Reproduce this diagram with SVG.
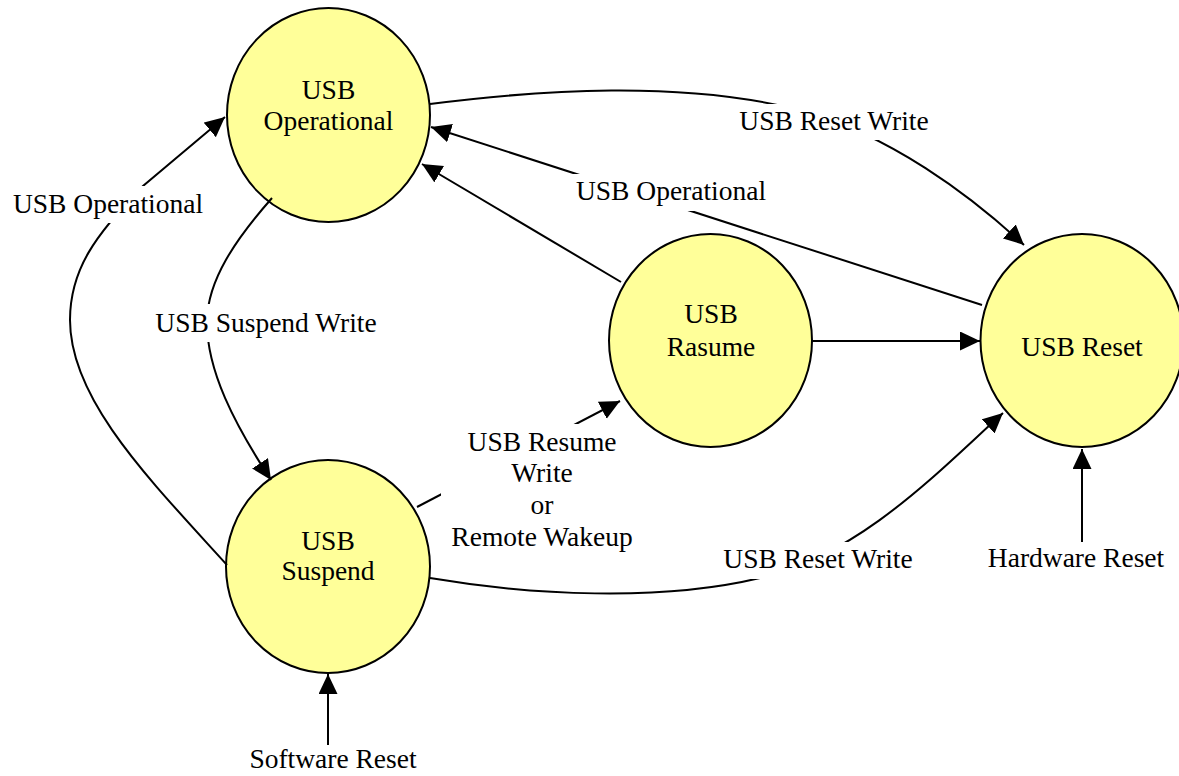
<svg xmlns="http://www.w3.org/2000/svg" width="1179" height="776" viewBox="0 0 1179 776" font-family="'Liberation Serif', 'Times New Roman', Times, 'DejaVu Serif', serif">
<style>
.node ellipse{fill:#FFFF99;stroke:#000;stroke-width:2}
text{font-family:'Liberation Serif','Times New Roman',Times,'DejaVu Serif',serif;font-size:27.5px;fill:#000;text-anchor:middle}
.edge{fill:none;stroke:#000;stroke-width:2;marker-end:url(#arrow)}
.bg{fill:#fff;stroke:none}
</style>
<defs>
<marker id="arrow" markerUnits="userSpaceOnUse" markerWidth="22" markerHeight="20" refX="20" refY="9.5" orient="auto">
<path d="M0,0 L20,9.5 L0,19 z" fill="#000"/>
</marker>
</defs>
<rect width="1179" height="776" fill="#fff"/>
<g id="op" class="node"><ellipse cx="328.5" cy="115" rx="101.5" ry="107"/><text x="328.5" y="99">USB</text><text x="328.5" y="130">Operational</text></g>
<g id="rs" class="node"><ellipse cx="710.5" cy="340.5" rx="101.5" ry="106.5"/><text x="711" y="323">USB</text><text x="711" y="356">Rasume</text></g>
<g id="rt" class="node"><ellipse cx="1082" cy="340.5" rx="101.5" ry="106.5"/><text x="1082" y="356">USB Reset</text></g>
<g id="sp" class="node"><ellipse cx="328" cy="566.5" rx="102" ry="106.5"/><text x="328" y="550">USB</text><text x="328" y="580">Suspend</text></g>
<g id="connectors">
<path class="edge" d="M430,104 C540,90 680,80 800,110 C890,135 970,195 1024,245"/>
<path class="edge" d="M982,305 L431,127"/>
<path class="edge" d="M621,282 L422,164"/>
<path class="edge" d="M812,341 L980,341"/>
<path class="edge" d="M272,198 C235,240 208,280 207,320 C206,370 235,425 271,480"/>
<path class="edge" d="M227,565 C150,480 70,400 70,320 C70,270 95,235 143,186 L225,117"/>
<path class="edge" d="M417,507 L620,401"/>
<path class="edge" d="M430,578 C530,595 660,602 760,578 C860,555 940,470 1003,413"/>
<path class="edge" d="M328,745 L328,674"/>
<path class="edge" d="M1082,542 L1082,449"/>
</g>
<g id="labels">
<rect class="bg" x="736" y="104" width="196" height="36"/><text x="834" y="130">USB Reset Write</text>
<rect class="bg" x="573" y="174" width="197" height="37"/><text x="671" y="200">USB Operational</text>
<rect class="bg" x="9" y="186" width="198" height="37"/><text x="108" y="213">USB Operational</text>
<rect class="bg" x="152" y="304" width="228" height="38"/><text x="266" y="332">USB Suspend Write</text>
<rect class="bg" x="441" y="424" width="195" height="132"/><text x="542" y="451">USB Resume</text><text x="542" y="482">Write</text><text x="542" y="514">or</text><text x="542" y="546">Remote Wakeup</text>
<rect class="bg" x="720" y="542" width="195" height="37"/><text x="818" y="568">USB Reset Write</text>
<text x="333" y="768">Software Reset</text>
<text x="1076" y="567">Hardware Reset</text>
</g>
</svg>
